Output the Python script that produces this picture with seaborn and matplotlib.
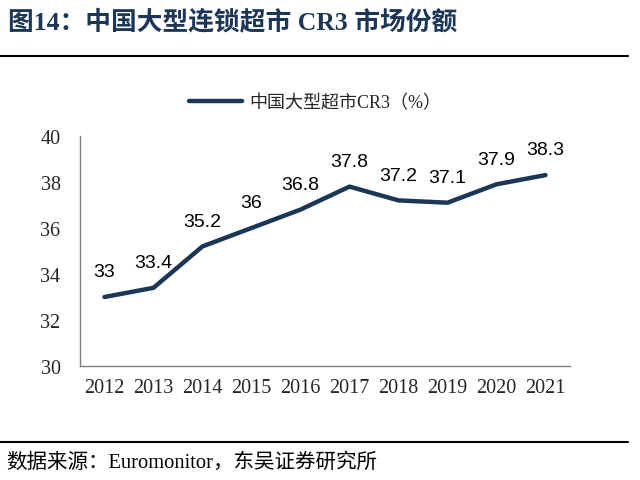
import numpy as np
import pandas as pd
import matplotlib
matplotlib.use("Agg")
import matplotlib.pyplot as plt
import seaborn as sns

# Data
YEARS = ["2012", "2013", "2014", "2015", "2016", "2017", "2018", "2019", "2020", "2021"]
CR3 = [33, 33.4, 35.2, 36, 36.8, 37.8, 37.2, 37.1, 37.9, 38.3]
LABELS = ["33", "33.4", "35.2", "36", "36.8", "37.8", "37.2", "37.1", "37.9", "38.3"]
YTICKS = [30, 32, 34, 36, 38, 40]

SERIES_NAME = "中国大型超市CR3（%）"
TITLE = "图14：中国大型连锁超市 CR3 市场份额"
SOURCE = "数据来源：Euromonitor，东吴证券研究所"

NAVY = "#1c3657"
CJK = ["Liberation Serif", "Noto Sans CJK SC"]

sns.set_style("white")
plt.rcParams["font.family"] = CJK

df = pd.DataFrame({"year": YEARS, "value": CR3})
df["x"] = np.arange(len(YEARS))

fig = plt.figure(figsize=(6.4, 4.81), dpi=100)
ax = fig.add_axes([80 / 640, 1 - 367 / 481, 490 / 640, 230 / 481])

sns.lineplot(data=df, x="x", y="value", ax=ax, color=NAVY, linewidth=3.2,
             label=SERIES_NAME, solid_capstyle="round")

for xi, v, lab in zip(df["x"], CR3, LABELS):
    ax.annotate(lab, (xi, v), xytext=(0, 12), textcoords="offset points",
                ha="center", va="bottom", fontsize=14, family="Liberation Sans",
                color="black")

ax.set_xlim(-0.5, len(YEARS) - 0.5)
ax.set_ylim(30, 40)
ax.set_yticks(YTICKS)
ax.set_xticks(df["x"])
ax.set_xticklabels(YEARS)
ax.set_xlabel("")
ax.set_ylabel("")
ax.tick_params(axis="y", direction="in", length=5, color="#808080", labelsize=14.5, pad=14)
ax.tick_params(axis="x", length=0, labelsize=14.5, pad=9)
for side in ["top", "right"]:
    ax.spines[side].set_visible(False)
for side in ["left", "bottom"]:
    ax.spines[side].set_color("#808080")
    ax.spines[side].set_linewidth(1)

leg = ax.legend(loc="center", frameon=False, fontsize=13, handlelength=2.9,
                handletextpad=0.4)
leg.set_bbox_to_anchor(((315 - 80) / 490, (367 - 104) / 230), transform=ax.transAxes)

# title and divider lines
fig.text(8 / 640, 1 - 22 / 481, TITLE, fontsize=18.5, fontweight="bold", color=NAVY,
         va="center", ha="left", family=["Liberation Serif", "Noto Sans CJK SC"])
fig.add_artist(plt.Line2D([0, 628 / 640], [1 - 57 / 481] * 2, color="black", lw=1.5))
fig.add_artist(plt.Line2D([0, 628 / 640], [1 - 443 / 481] * 2, color="black", lw=1.5))
fig.text(6 / 640, 1 - 463 / 481, SOURCE, fontsize=14.8, color="black", va="center", ha="left")

plt.savefig("out.png", dpi=100)
plt.close()
